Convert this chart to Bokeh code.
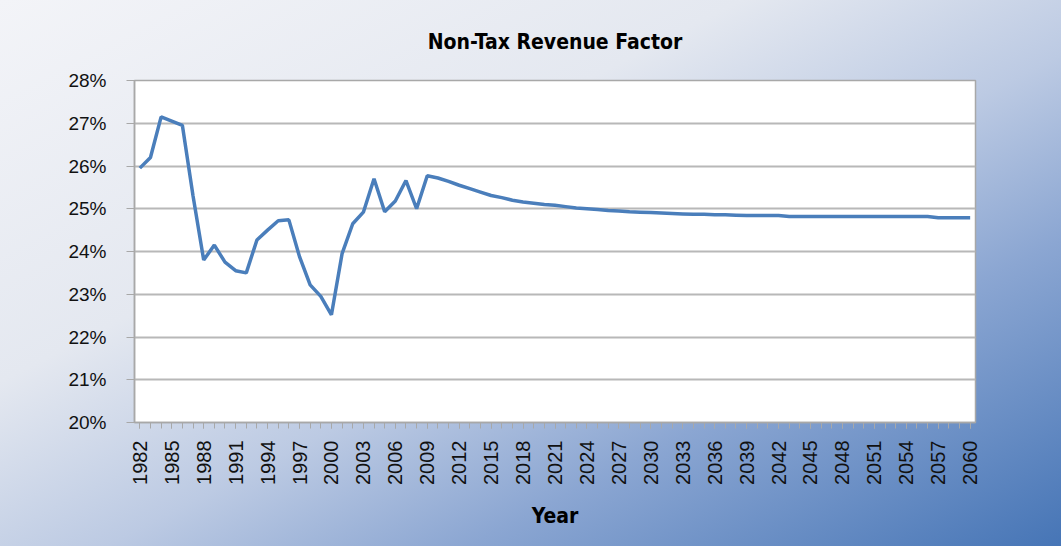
import math
from bokeh.plotting import figure
from bokeh.models import FixedTicker, PrintfTickFormatter, Range1d
from bokeh.embed import file_html
from bokeh.resources import INLINE

years = list(range(1982, 2061))
values = [
    25.95, 26.2, 27.15, 27.05, 26.95, 25.3, 23.8, 24.15, 23.75, 23.55,   # 1982-1991
    23.5, 24.27, 24.5, 24.72, 24.74, 23.88, 23.22, 22.95, 22.52, 23.95,   # 1992-2001
    24.65, 24.92, 25.7, 24.93, 25.18, 25.66, 25.0, 25.77, 25.72, 25.64,   # 2002-2011
    25.55, 25.47, 25.39, 25.31, 25.26, 25.2, 25.16, 25.13, 25.1, 25.08,   # 2012-2021
    25.05, 25.02, 25.0, 24.98, 24.96, 24.95, 24.93, 24.92, 24.91, 24.9,   # 2022-2031
    24.89, 24.88, 24.87, 24.87, 24.86, 24.86, 24.85, 24.84, 24.84, 24.84, # 2032-2041
    24.84, 24.82, 24.82, 24.82, 24.82, 24.82, 24.82, 24.82, 24.82, 24.82, # 2042-2051
    24.82, 24.82, 24.82, 24.82, 24.82, 24.79, 24.79, 24.79, 24.79,        # 2052-2060
]
label_years = list(range(1982, 2061, 3))
y_ticks = [20, 21, 22, 23, 24, 25, 26, 27, 28]

title_text = "Non-Tax Revenue Factor"
x_label = "Year"

COND = "Liberation Sans Narrow, DejaVu Sans Condensed, sans-serif"
REG = "Liberation Sans, Arial, sans-serif"

p = figure(
    width=1061, height=546, output_backend="svg", toolbar_location=None,
    x_range=Range1d(1981.5, 2060.5), y_range=Range1d(20, 28),
    min_border_left=134, min_border_right=86, min_border_top=80, min_border_bottom=124,
)
p.styles = {"background": "linear-gradient(to bottom right, #f3f4f8 0%, #e4e8f0 35%, #bccae3 55%, #8ba6d2 72%, #4675b6 100%)"}
p.border_fill_color = None
p.background_fill_color = "white"
p.outline_line_color = "#a8a8a8"
p.outline_line_width = 1.5

p.line(years, values, line_color="#4a7ebb", line_width=3.5)

p.title.text = title_text
p.title.align = "center"
p.title.text_font = COND
p.title.text_font_size = "21px"
p.title.text_font_style = "bold"
p.title.text_color = "#000000"
p.title.standoff = 54

xa = p.xaxis[0]
xa.ticker = FixedTicker(ticks=label_years, minor_ticks=years)
xa.major_label_orientation = math.pi / 2
xa.major_label_text_font = REG
xa.major_label_text_font_size = "20px"
xa.major_label_text_color = "#111111"
xa.major_label_standoff = 12
xa.major_tick_in = 0
xa.major_tick_out = 6
xa.minor_tick_in = 0
xa.minor_tick_out = 6
xa.major_tick_line_color = "#a8a8a8"
xa.minor_tick_line_color = "#a8a8a8"
xa.axis_line_color = "#a8a8a8"
xa.axis_line_width = 1.5
xa.axis_label = x_label
xa.axis_label_text_font = COND
xa.axis_label_text_font_size = "21px"
xa.axis_label_text_font_style = "bold"
xa.axis_label_text_color = "#000000"
xa.axis_label_standoff = 16

ya = p.yaxis[0]
ya.ticker = FixedTicker(ticks=y_ticks)
ya.formatter = PrintfTickFormatter(format="%d%%")
ya.major_label_text_font = REG
ya.major_label_text_font_size = "19px"
ya.major_label_text_color = "#111111"
ya.major_label_standoff = 20
ya.major_tick_in = 0
ya.major_tick_out = 8
ya.major_tick_line_color = "#a8a8a8"
ya.minor_tick_line_color = None
ya.axis_line_color = "#a8a8a8"
ya.axis_line_width = 1.5

p.xgrid.visible = False
p.ygrid.grid_line_color = "#b8b8b8"
p.ygrid.grid_line_width = 2

open("out.html", "w").write(file_html(p, INLINE))
